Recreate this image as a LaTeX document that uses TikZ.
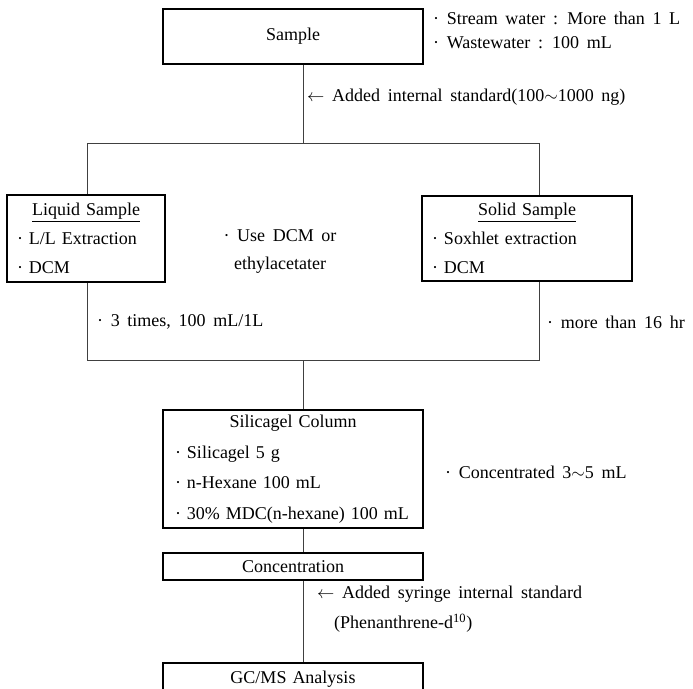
\documentclass[tikz,border=0pt]{standalone}
\usepackage{fontspec}
\setmainfont{Liberation Serif}[WordSpace=1.7]
\usepackage{tikz}

\tikzset{
  stage/.style={draw, line width=2pt, inner xsep=10pt, inner ysep=0pt, align=left},
  link/.style={line width=1pt, black!75},
  note/.style={anchor=west, inner sep=0pt, align=left}
}

\begin{document}
\begin{tikzpicture}[x=1pt, y=-1pt, font=\fontsize{18}{29}\selectfont]
\useasboundingbox (0,0) rectangle (693,688);
% Boxes
\node[stage, text width=240, minimum height=55, align=center] (sample) at (293,36) {Sample};
\node[stage, text width=138, minimum height=87] (liquid) at (86,238.5)
  {\makebox[\hsize]{\underline{Liquid Sample}}\\· L/L Extraction\\· DCM};
\node[stage, text width=190, minimum height=85] (solid) at (527,238.5)
  {\makebox[\hsize]{\underline{Solid Sample}}\\· Soxhlet extraction\\· DCM};
\node[stage, text width=236, inner xsep=12pt, minimum height=118,
  font=\fontsize{18}{30.5}\selectfont] (silica) at (293,469)
  {\makebox[\hsize]{Silicagel Column}\\· Silicagel 5 g\\· n-Hexane 100 mL\\· 30\% MDC(n-hexane) 100 mL};
\node[stage, text width=240, minimum height=27, align=center] (conc) at (293,566.5) {Concentration};
\node[stage, text width=240, minimum height=32, align=center] (gcms) at (293,679) {GC/MS Analysis};
% Junctions
\coordinate (tj) at (303,143);
\coordinate (tl) at (87,143);
\coordinate (tr) at (539,143);
\coordinate (bj) at (303,360);
\coordinate (bl) at (87,360);
\coordinate (br) at (539,360);
% Connectors
\draw[link] (sample.south -| tj) -- (tj);
\draw[link] (tl) -- (tr);
\draw[link] (tl) -- (tl |- liquid.north);
\draw[link] (tr) -- (tr |- solid.north);
\draw[link] (liquid.south -| bl) -- (bl) -- (br) -- (solid.south -| br);
\draw[link] (bj) -- (bj |- silica.north);
\draw[link] (silica.south -| bj) -- (bj |- conc.north);
\draw[link] (conc.south -| bj) -- (bj |- gcms.north);
% Notes
\node[note] (stream) at (433,18) {· Stream water : More than 1 L};
\node[note] (waste) at (433,43) {· Wastewater : 100 mL};
\node[note] (istd) at (307,97) {$\leftarrow$ Added internal standard(100$\sim$1000 ng)};
\node[align=center, inner sep=0pt, font=\fontsize{18}{28}\selectfont] (solvent) at (280,251)
  {· Use DCM or\\ethylacetater};
\node[note] (times) at (97,322) {· 3 times, 100 mL/1L};
\node[note] (hours) at (547,322) {· more than 16 hr};
\node[note] (conctext) at (445,472) {· Concentrated 3$\sim$5 mL};
\node[note] (syringe) at (317,594) {$\leftarrow$ Added syringe internal standard};
\node[note] (phen) at (334,623) {(Phenanthrene-d\textsuperscript{10})};
\end{tikzpicture}
\end{document}
